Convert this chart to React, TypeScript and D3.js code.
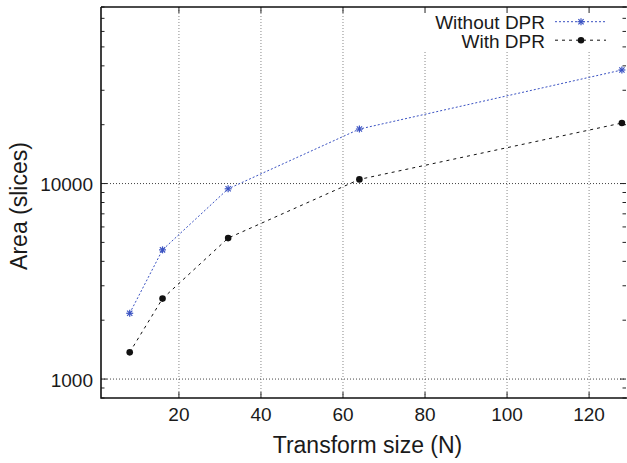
import React from 'react';
import * as d3 from 'd3';

// transform sizes (N) and measured area in slices
const sizes = [8, 16, 32, 64, 128];
const withoutDpr = [2170, 4580, 9400, 19000, 38100];
const withDpr = [1370, 2580, 5260, 10500, 20400];

const xTicks = [20, 40, 60, 80, 100, 120];
const yTicks = [1000, 10000];
const yMinor = [800, 900, 2000, 3000, 4000, 5000, 6000, 7000, 8000, 9000,
  20000, 30000, 40000, 50000, 60000, 70000, 80000];

const series = [
  { name: 'Without DPR', values: withoutDpr, color: '#3a52c2', dash: '2,2', marker: 'star' },
  { name: 'With DPR', values: withDpr, color: '#111111', dash: '3,4', marker: 'dot' },
];

const W = 627;
const H = 463;
const left = 101, right = 626, top = 7, bottom = 398;
const font = '"Liberation Sans", Arial, Helvetica, sans-serif';

const Star = ({ x, y, color }) => {
  const s = 3.5;
  return (
    <g stroke={color} strokeWidth={1.2}>
      <line x1={x - s} y1={y} x2={x + s} y2={y} />
      <line x1={x} y1={y - s} x2={x} y2={y + s} />
      <line x1={x - s * 0.75} y1={y - s * 0.75} x2={x + s * 0.75} y2={y + s * 0.75} />
      <line x1={x - s * 0.75} y1={y + s * 0.75} x2={x + s * 0.75} y2={y - s * 0.75} />
    </g>
  );
};

const Marker = ({ kind, x, y, color }) =>
  kind === 'star' ? <Star x={x} y={y} color={color} /> : <circle cx={x} cy={y} r={3.3} fill={color} />;

const App = () => {
  const xScale = d3.scaleLinear().domain([1, 129]).range([left, right]);
  const yScale = d3.scaleLog().domain([800, 80000]).range([bottom, top]);

  const line = d3.line<number>()
    .x((d, i) => xScale(sizes[i]))
    .y(d => yScale(d));

  return (
    <svg width={W} height={H} style={{ position: 'absolute', left: 0, top: 0, background: '#fff' }}
      fontFamily={font}>
      {/* grid */}
      {xTicks.map(t => (
        <line key={'gx' + t} x1={xScale(t)} x2={xScale(t)} y1={bottom} y2={top}
          stroke="#888" strokeWidth={1} strokeDasharray="1,2" />
      ))}
      {yTicks.map(t => (
        <line key={'gy' + t} x1={left} x2={right} y1={yScale(t)} y2={yScale(t)}
          stroke="#444" strokeWidth={1} strokeDasharray="1,2" />
      ))}

      {/* key background */}
      <rect x={420} y={top} width={W - 420} height={43} fill="#fff" />

      {/* ticks */}
      {xTicks.map(t => (
        <g key={'tx' + t} stroke="#222" strokeWidth={1}>
          <line x1={xScale(t)} x2={xScale(t)} y1={bottom} y2={bottom - 6} />
          <line x1={xScale(t)} x2={xScale(t)} y1={top} y2={top + 6} />
        </g>
      ))}
      {yTicks.map(t => (
        <g key={'ty' + t} stroke="#222" strokeWidth={1}>
          <line x1={left} x2={left + 6} y1={yScale(t)} y2={yScale(t)} />
          <line x1={right} x2={right - 6} y1={yScale(t)} y2={yScale(t)} />
        </g>
      ))}
      {yMinor.map(t => (
        <g key={'tm' + t} stroke="#222" strokeWidth={1}>
          <line x1={left} x2={left + 3.5} y1={yScale(t)} y2={yScale(t)} />
          <line x1={right} x2={right - 3.5} y1={yScale(t)} y2={yScale(t)} />
        </g>
      ))}

      {/* frame */}
      <path d={`M${left},${top}H${W + 2}M${left},${top}V${bottom}H${W + 2}`}
        fill="none" stroke="#111" strokeWidth={1.6} />

      {/* series */}
      {series.map(s => (
        <g key={s.name}>
          <path d={line(s.values) || ''} fill="none" stroke={s.color} strokeWidth={1}
            strokeDasharray={s.dash} />
          {s.values.map((v, i) => (
            <Marker key={i} kind={s.marker} x={xScale(sizes[i])} y={yScale(v)} color={s.color} />
          ))}
        </g>
      ))}

      {/* tick labels */}
      {xTicks.map(t => (
        <text key={'lx' + t} x={xScale(t)} y={421} textAnchor="middle" fontSize={19} fill="#1a1a1a">
          {t}
        </text>
      ))}
      {yTicks.map(t => (
        <text key={'ly' + t} x={93} y={yScale(t) + 7.5} textAnchor="end" fontSize={19} fill="#1a1a1a">
          {t}
        </text>
      ))}

      {/* axis titles */}
      <text x={367.5} y={453} textAnchor="middle" fontSize={23} fill="#1a1a1a">Transform size (N)</text>
      <text transform={`translate(27,206) rotate(-90)`} textAnchor="middle" fontSize={23} fill="#1a1a1a">
        Area (slices)
      </text>

      {/* key */}
      {series.map((s, i) => {
        const ky = 21.7 + i * 18.5;
        return (
          <g key={'k' + s.name}>
            <text x={545} y={ky + 7.3} textAnchor="end" fontSize={19} fill="#1a1a1a">{s.name}</text>
            <line x1={555} x2={606} y1={ky} y2={ky} stroke={s.color} strokeWidth={1} strokeDasharray={s.dash} />
            <Marker kind={s.marker} x={581} y={ky} color={s.color} />
          </g>
        );
      })}
    </svg>
  );
};

export default App;
